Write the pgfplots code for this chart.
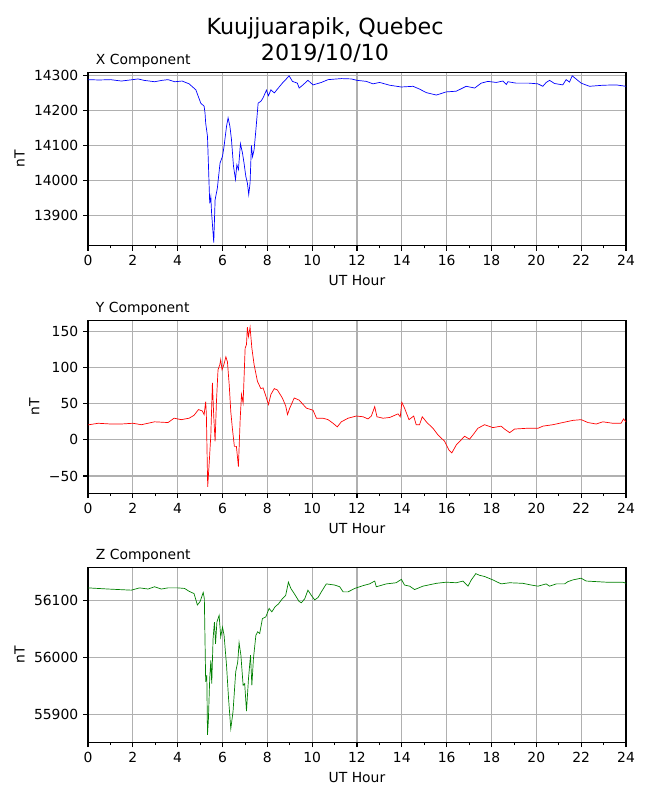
\documentclass[border=0pt]{standalone}
\usepackage{fontspec}
\setmainfont{DejaVu Sans}
\usepackage{pgfplots}
\pgfplotsset{compat=1.18}
\pgfplotsset{
  magax/.style={
    at={(63.36pt,#1)}, anchor=south west,
    scale only axis, width=387.36pt,
    xmin=0, xmax=24,
    xtick={0,2,...,24},
    xticklabels={0,2,4,6,8,10,12,14,16,18,20,22,24},
    minor x tick num=1,
    scaled x ticks=false, scaled y ticks=false,
    xtick pos=bottom, ytick pos=left,
    tick align=outside,
    major tick length=3.5pt, minor tick length=2pt,
    every tick/.style={black, line width=0.8pt},
    minor tick style={black, line width=0.6pt},
    xmajorgrids, ymajorgrids,
    major grid style={color=black!31, line width=0.8pt},
    axis line style={black, line width=0.8pt},
    tick label style={font=\fontsize{10}{12}\selectfont},
    label style={font=\fontsize{10}{12}\selectfont},
    xlabel={UT Hour}, ylabel={nT},
    every axis title/.style={at={(0,1)}, anchor=base west, xshift=2.2pt, yshift=6pt, font=\fontsize{10}{12}\selectfont},
    clip=true,
  }
}
\begin{document}
\begin{tikzpicture}[x=1pt,y=1pt]
\path[use as bounding box] (0,0) rectangle (468,576);
\node[anchor=base, font=\fontsize{16}{19.2}\selectfont] at (234,551.3) {Kuujjuarapik, Quebec};
\node[anchor=base, font=\fontsize{16}{19.2}\selectfont] at (234,532.1) {2019/10/10};

\begin{axis}[magax=399.1pt, height=124.6pt, ymin=13813, ymax=14307,
  ytick={13900,14000,14100,14200,14300},
  yticklabels={13900,14000,14100,14200,14300},
  title={X Component}]
\addplot[color=blue, line width=0.5pt] coordinates {
(0,14287) (0.5,14286) (1.0,14287) (1.49,14283) (2.0,14287) (2.23,14289) (2.5,14285) (2.97,14281) (3.3,14285) (3.57,14287) (3.87,14281) (4.2,14283) (4.51,14275) (4.81,14258) (5.03,14220) (5.18,14211) (5.22,14192) (5.25,14163) (5.33,14125) (5.43,13934) (5.48,13953) (5.51,13910) (5.61,13822) (5.67,13944) (5.77,13977) (5.89,14049) (6.00,14068) (6.07,14097) (6.18,14154) (6.25,14178) (6.33,14154) (6.40,14116) (6.49,14040) (6.58,14002) (6.64,14044) (6.71,14030) (6.80,14104) (6.89,14078) (6.96,14049) (7.04,14011) (7.11,13992) (7.17,13959) (7.23,13992) (7.29,14099) (7.34,14067) (7.41,14087) (7.49,14144) (7.59,14220) (7.71,14225) (7.81,14235) (7.96,14257) (8.05,14241) (8.16,14258) (8.31,14249) (8.45,14260) (8.67,14277) (8.82,14287) (8.97,14298) (9.12,14282) (9.34,14277) (9.42,14263) (9.59,14272) (9.81,14285) (10.04,14272) (10.41,14279) (10.71,14287) (11.30,14290) (11.75,14289) (12.0,14285) (12.42,14282) (12.71,14275) (13.01,14279) (13.46,14271) (13.98,14266) (14.5,14268) (14.79,14260) (15.09,14250) (15.54,14243) (15.98,14252) (16.43,14254) (16.87,14268) (17.25,14263) (17.54,14277) (17.84,14282) (18.21,14279) (18.51,14283) (18.66,14273) (18.73,14281) (19.10,14277) (19.67,14277) (20.07,14275) (20.29,14268) (20.44,14279) (20.59,14285) (20.81,14276) (21.18,14272) (21.33,14287) (21.48,14280) (21.60,14298) (21.75,14290) (22.0,14277) (22.37,14268) (22.97,14271) (23.56,14272) (24.0,14268)
};
\end{axis}

\begin{axis}[magax=220.8pt, height=124.3pt, ymin=-74, ymax=165,
  ytick={-50,0,50,100,150},
  yticklabels={−50,0,50,100,150},
  title={Y Component}]
\addplot[color=red, line width=0.5pt] coordinates {
(0,20.7) (0.45,23) (1.0,22) (1.5,22) (2.0,23) (2.38,21) (2.97,25) (3.57,24) (3.84,30) (4.16,28) (4.51,30) (4.73,34) (4.93,42) (5.10,40) (5.18,35) (5.25,53) (5.28,35) (5.34,-65) (5.42,-25) (5.48,7) (5.55,79) (5.61,32) (5.67,-2) (5.73,53) (5.80,97) (5.88,104) (5.92,111) (5.98,97) (6.06,104) (6.15,115) (6.22,108) (6.30,76) (6.37,39) (6.44,16) (6.53,-9) (6.62,-9) (6.71,-37) (6.79,30) (6.85,63) (6.92,51) (7.01,127) (7.07,132) (7.11,156) (7.16,143) (7.23,156) (7.31,127) (7.41,104) (7.56,81) (7.71,71) (7.81,72) (7.93,61) (8.05,49) (8.16,63) (8.31,71) (8.45,69) (8.67,58) (8.82,47) (8.90,35) (9.00,44) (9.20,58) (9.42,55) (9.74,44) (10.04,41) (10.19,30) (10.48,30) (10.71,28) (10.93,23) (11.12,18) (11.30,25) (11.60,30) (11.97,33) (12.27,32) (12.49,29) (12.64,33) (12.79,46) (12.89,32) (13.16,30) (13.46,31) (13.83,36) (13.93,32) (14.0,52) (14.12,44) (14.32,28) (14.53,33) (14.64,21) (14.79,21) (14.91,32) (15.12,24) (15.39,16) (15.61,7) (15.91,-2) (16.10,-14) (16.23,-18) (16.43,-7) (16.80,5) (17.02,1) (17.20,8) (17.39,16) (17.69,21) (18.06,17) (18.43,19) (18.58,15) (18.81,10) (19.03,15) (19.55,16) (20.07,16) (20.29,19) (20.74,21) (21.18,24) (21.63,27) (22.0,28) (22.30,24) (22.67,22) (22.97,25) (23.41,23) (23.78,23) (23.89,29) (24.0,25)
};
\end{axis}

\begin{axis}[magax=41.5pt, height=126pt, ymin=55851, ymax=56158,
  ytick={55900,56000,56100},
  yticklabels={55900,56000,56100},
  title={Z Component}]
\addplot[color=green!50!black, line width=0.5pt] coordinates {
(0,56122) (0.89,56120) (1.93,56118) (2.30,56122) (2.68,56120) (2.97,56124) (3.27,56120) (3.57,56122) (4.01,56122) (4.31,56121) (4.51,56116) (4.73,56112) (4.88,56092) (5.00,56098) (5.14,56114) (5.19,56103) (5.25,55957) (5.30,55969) (5.33,55864) (5.37,55890) (5.43,55963) (5.48,55995) (5.52,55954) (5.58,56033) (5.64,56062) (5.69,56024) (5.75,56062) (5.85,56074) (5.92,56036) (6.00,56053) (6.07,56039) (6.18,55986) (6.27,55928) (6.37,55875) (6.47,55905) (6.59,55975) (6.68,55992) (6.74,56026) (6.82,56004) (6.92,55951) (6.99,55954) (7.07,55906) (7.16,55963) (7.25,56004) (7.31,55951) (7.38,55998) (7.49,56039) (7.57,56045) (7.66,56042) (7.78,56068) (7.93,56071) (8.08,56086) (8.20,56080) (8.35,56089) (8.50,56094) (8.67,56103) (8.82,56109) (8.94,56132) (9.05,56121) (9.20,56112) (9.42,56098) (9.52,56096) (9.67,56103) (9.81,56118) (9.96,56109) (10.11,56101) (10.26,56105) (10.41,56115) (10.63,56129) (11.0,56127) (11.23,56124) (11.38,56115) (11.60,56115) (11.90,56121) (12.27,56126) (12.56,56129) (12.79,56134) (12.86,56124) (13.31,56129) (13.75,56131) (13.98,56137) (14.12,56127) (14.35,56125) (14.57,56119) (14.94,56125) (15.54,56130) (15.98,56132) (16.43,56131) (16.73,56134) (16.95,56125) (17.10,56136) (17.30,56147) (17.47,56144) (17.69,56142) (18.06,56136) (18.43,56129) (18.81,56131) (19.40,56130) (19.77,56127) (20.07,56125) (20.44,56129) (20.59,56125) (20.89,56129) (21.26,56129) (21.41,56133) (21.63,56136) (22.0,56139) (22.22,56134) (22.67,56133) (23.11,56132) (23.56,56132) (23.86,56132) (24.0,56130)
};
\end{axis}
\end{tikzpicture}
\end{document}
